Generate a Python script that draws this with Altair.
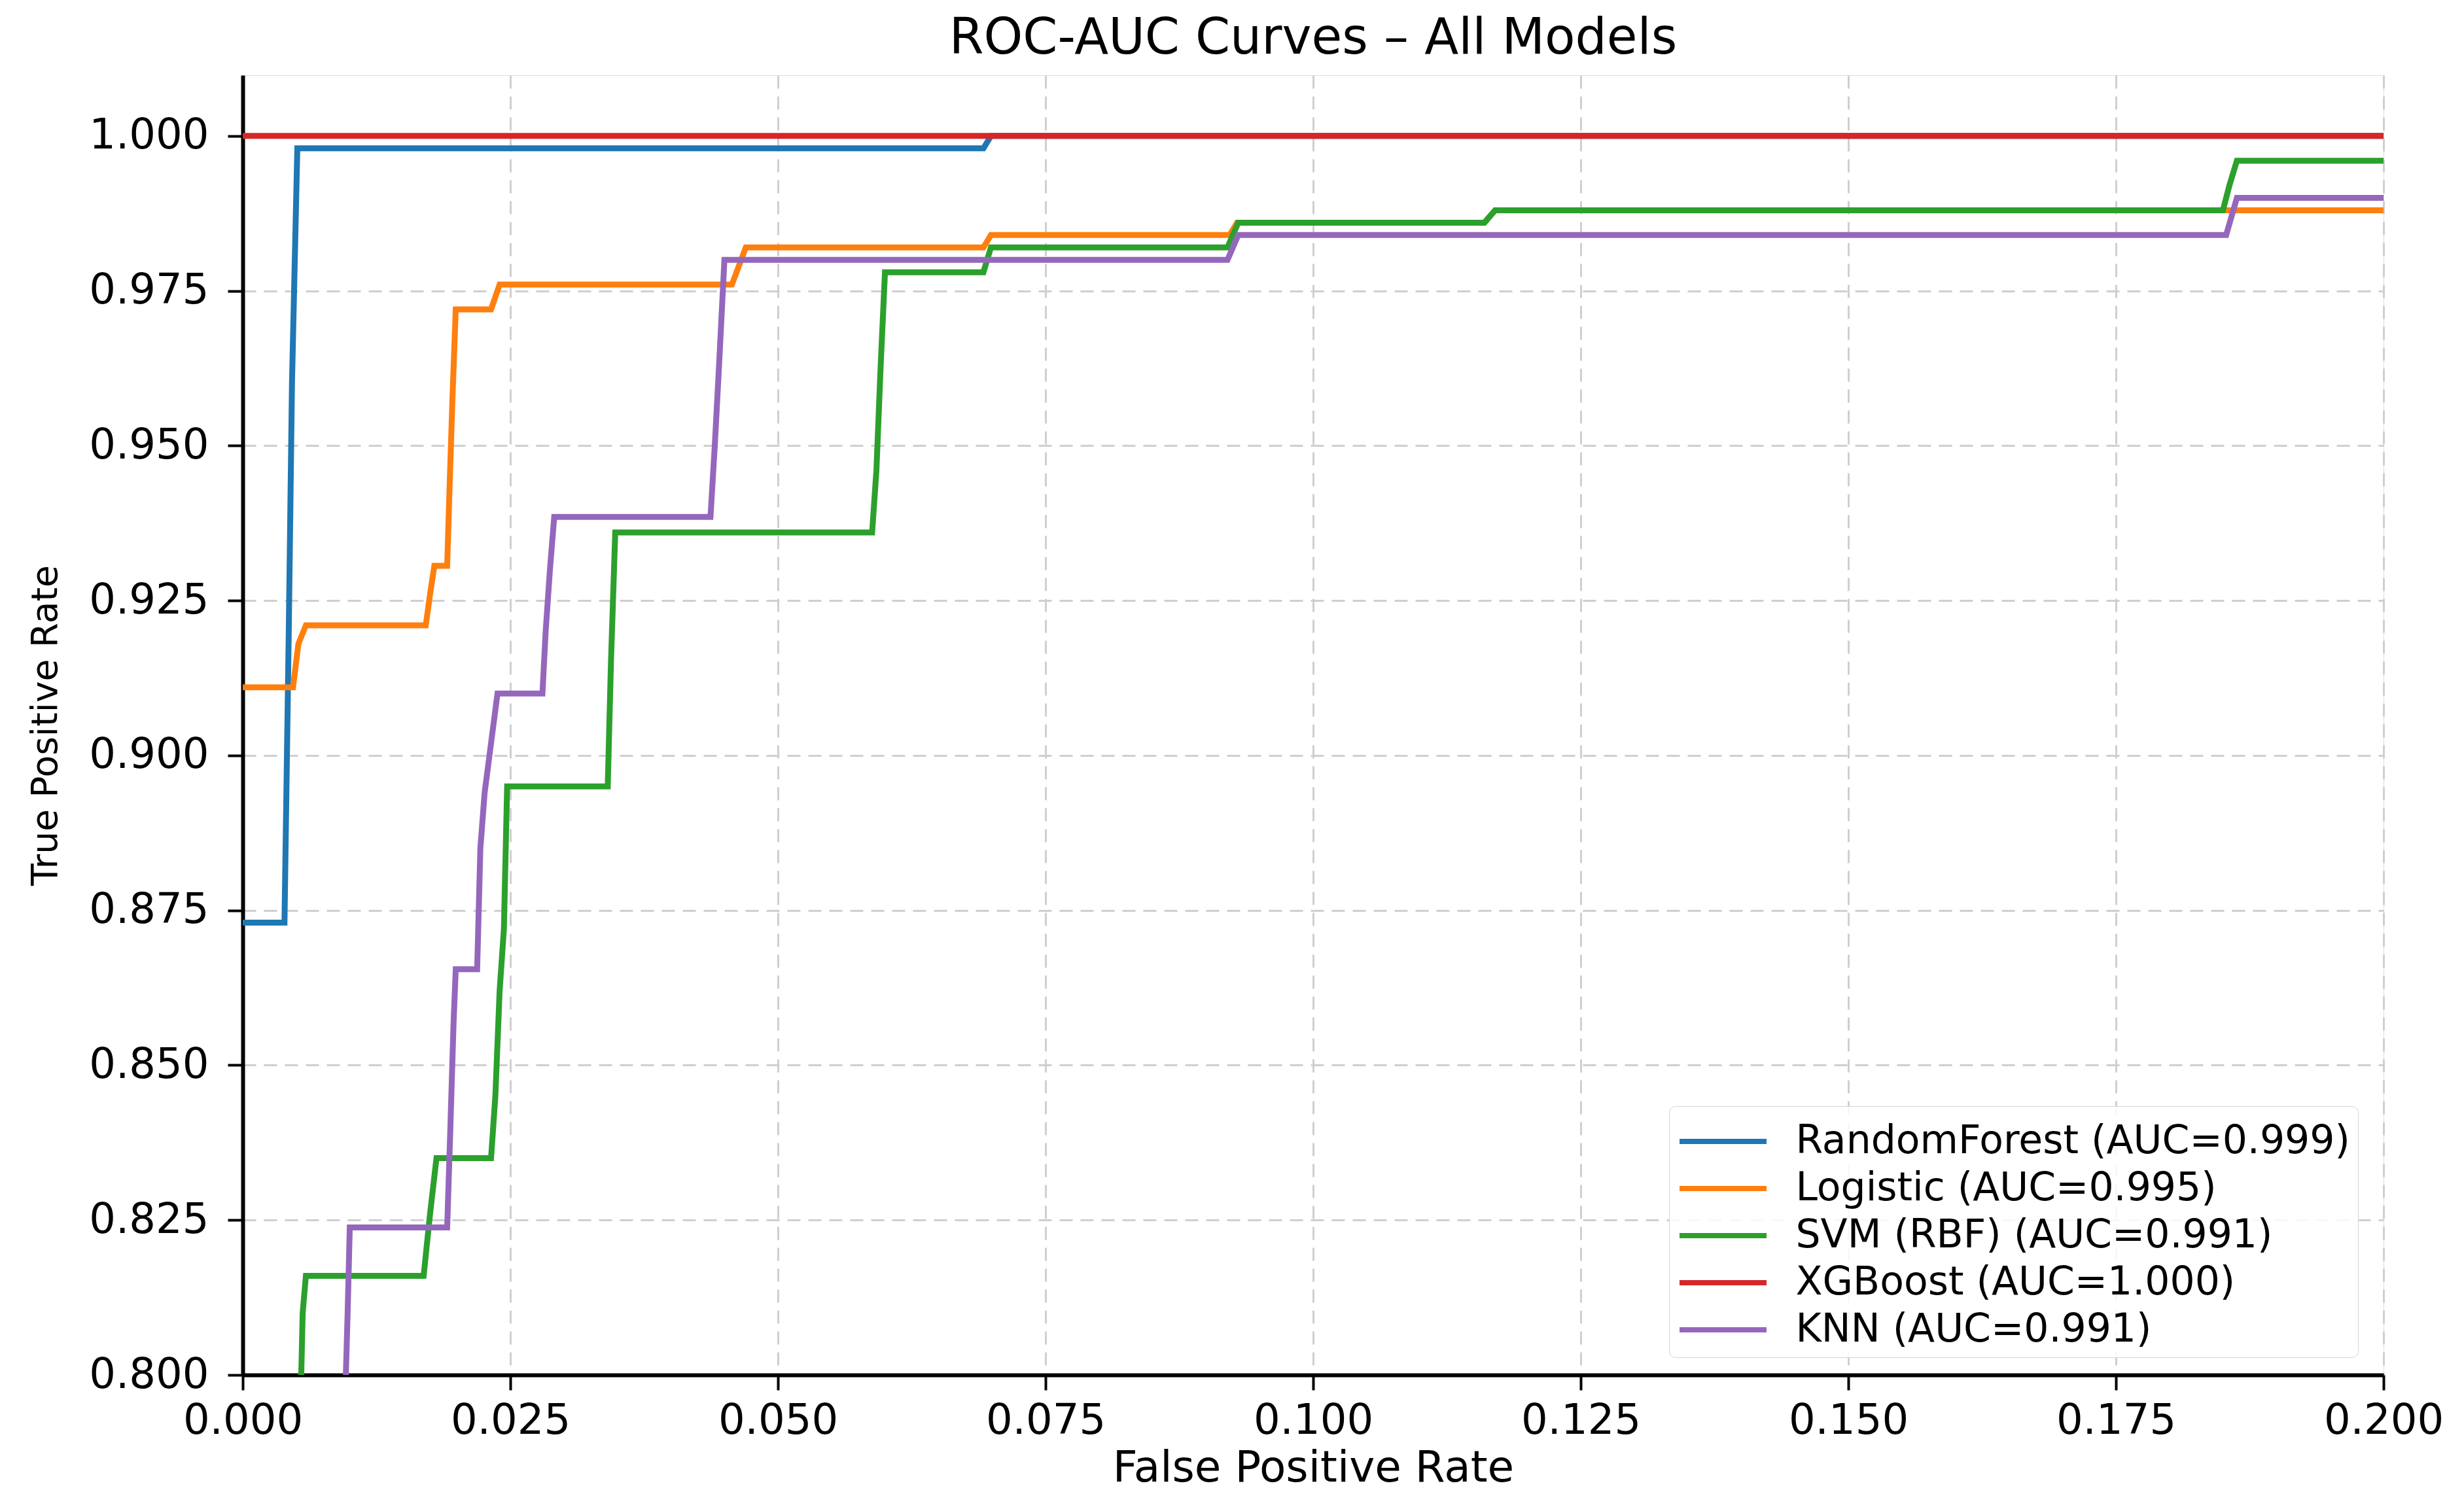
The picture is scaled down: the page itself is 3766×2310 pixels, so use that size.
import altair as alt
import pandas as pd

# ---- data ----
model_names = [
    "RandomForest (AUC=0.999)",
    "Logistic (AUC=0.995)",
    "SVM (RBF) (AUC=0.991)",
    "XGBoost (AUC=1.000)",
    "KNN (AUC=0.991)",
]
model_colors = ["#1f77b4", "#ff7f0e", "#2ca02c", "#d62728", "#9467bd"]

fpr_rf = [0.0, 0.0039, 0.0043, 0.0046, 0.0051, 0.0692, 0.0699, 0.2]
tpr_rf = [0.873, 0.873, 0.92, 0.96, 0.998, 0.998, 1.0, 1.0]

fpr_lr = [0.0, 0.0047, 0.0052, 0.0059, 0.0171, 0.0175, 0.0179, 0.0191, 0.0193,
          0.0196, 0.0199, 0.0232, 0.0240, 0.0457, 0.0470, 0.0692, 0.0699,
          0.0922, 0.0929, 0.1160, 0.1170, 0.2]
tpr_lr = [0.911, 0.911, 0.918, 0.921, 0.921, 0.926, 0.9306, 0.9306, 0.942,
          0.958, 0.972, 0.972, 0.976, 0.976, 0.982, 0.982, 0.984,
          0.984, 0.986, 0.986, 0.988, 0.988]

fpr_svm = [0.0052, 0.0056, 0.0059, 0.0169, 0.0175, 0.0181, 0.0232, 0.0236,
           0.0240, 0.0244, 0.0247, 0.0341, 0.0344, 0.0348, 0.0588, 0.0592,
           0.0596, 0.0600, 0.0692, 0.0699, 0.0920, 0.0930, 0.1160, 0.1170,
           0.1850, 0.1856, 0.1863, 0.2]
tpr_svm = [0.780, 0.810, 0.816, 0.816, 0.826, 0.835, 0.835, 0.845, 0.862,
           0.872, 0.895, 0.895, 0.915, 0.936, 0.936, 0.946, 0.963, 0.978,
           0.978, 0.982, 0.982, 0.986, 0.986, 0.988, 0.988, 0.992, 0.996,
           0.996]

fpr_xgb = [0.0, 0.2]
tpr_xgb = [1.0, 1.0]

fpr_knn = [0.0093, 0.0098, 0.0100, 0.0191, 0.0194, 0.0197, 0.0199, 0.0219,
           0.0222, 0.0226, 0.0232, 0.0238, 0.0280, 0.0283, 0.0287, 0.0291,
           0.0437, 0.0441, 0.0445, 0.0450, 0.0920, 0.0930, 0.1853, 0.1863, 0.2]
tpr_knn = [0.780, 0.810, 0.8238, 0.8238, 0.840, 0.857, 0.8655, 0.8655,
           0.885, 0.894, 0.902, 0.910, 0.910, 0.920, 0.930, 0.9385,
           0.9385, 0.950, 0.963, 0.980, 0.980, 0.984, 0.984, 0.990, 0.990]

x_ticks = [0.0, 0.025, 0.05, 0.075, 0.1, 0.125, 0.15, 0.175, 0.2]
y_ticks = [0.8, 0.825, 0.85, 0.875, 0.9, 0.925, 0.95, 0.975, 1.0]

series = [
    (model_names[0], fpr_rf, tpr_rf),
    (model_names[1], fpr_lr, tpr_lr),
    (model_names[2], fpr_svm, tpr_svm),
    (model_names[3], fpr_xgb, tpr_xgb),
    (model_names[4], fpr_knn, tpr_knn),
]

rows = []
for name, xs, ys in series:
    for i, (x, y) in enumerate(zip(xs, ys)):
        rows.append({"model": name, "fpr": x, "tpr": y, "idx": i})
df = pd.DataFrame(rows)

FONT = "DejaVu Sans"
W, H = 3272, 1987

x_enc = alt.X(
    "fpr:Q",
    scale=alt.Scale(domain=[0.0, 0.2], nice=False, zero=False),
    axis=alt.Axis(
        values=x_ticks, format=".3f", labelFont=FONT, labelFontSize=64,
        labelColor="black", labelFlush=False, labelPadding=15,
        labelLimit=600, labelOverlap=False,
        tickSize=23, tickWidth=4, tickColor="black",
        domainColor="black", domainWidth=6,
        grid=True, gridColor="#cfcfcf", gridWidth=3, gridDash=[20, 12],
        title="False Positive Rate", titleFont=FONT, titleFontSize=66,
        titleFontWeight="normal", titleColor="black",
        titleY=162, titleBaseline="alphabetic",
    ),
)
y_enc = alt.Y(
    "tpr:Q",
    scale=alt.Scale(domain=[0.8, 1.0098], nice=False, zero=False),
    axis=alt.Axis(
        values=y_ticks, format=".3f", labelFont=FONT, labelFontSize=64,
        labelColor="black", labelFlush=False, labelPadding=29,
        labelLimit=600, labelOverlap=False,
        tickSize=23, tickWidth=4, tickColor="black",
        domainColor="black", domainWidth=6,
        grid=True, gridColor="#cfcfcf", gridWidth=3, gridDash=[20, 12],
        title="True Positive Rate", titleFont=FONT, titleFontSize=55,
        titleFontWeight="normal", titleColor="black",
        titleX=-285, titleY=H / 2, titleAngle=270,
        titleBaseline="alphabetic", titleAlign="center",
    ),
)
color_enc = alt.Color(
    "model:N",
    scale=alt.Scale(domain=model_names, range=model_colors),
    legend=alt.Legend(
        title=None, orient="none", legendX=2180, legendY=1576,
        symbolType="M-1.75,0L1.75,0", symbolSize=5776, symbolStrokeWidth=8,
        symbolOffset=28.5,
        labelFont=FONT, labelFontSize=60, labelColor="black",
        labelOffset=69, labelLimit=3000, padding=12, rowPadding=0,
        fillColor="rgba(255,255,255,0.85)", strokeColor="#d4d4d4",
        cornerRadius=10,
    ),
)

layers = []
for name in model_names:
    layers.append(
        alt.Chart(df)
        .transform_filter(alt.datum.model == name)
        .mark_line(strokeWidth=9, clip=True)
        .encode(x=x_enc, y=y_enc, color=color_enc, order="idx:Q")
    )

chart = (
    alt.layer(*layers)
    .properties(
        width=W,
        height=H,
        title=alt.TitleParams(
            "ROC-AUC Curves – All Models", font=FONT, fontSize=76,
            fontWeight="normal", color="black", anchor="middle",
            frame="group", baseline="alphabetic", offset=36, dy=79,
        ),
        autosize=alt.AutoSizeParams(type="none"),
        padding={"left": 371, "top": 115, "right": 123, "bottom": 208},
    )
    .configure_view(stroke="black", strokeWidth=6)
    .configure_legend(strokeWidth=3)
    .configure(background="white")
)

chart.save("out.html", embed_options={"renderer": "svg", "actions": False})
